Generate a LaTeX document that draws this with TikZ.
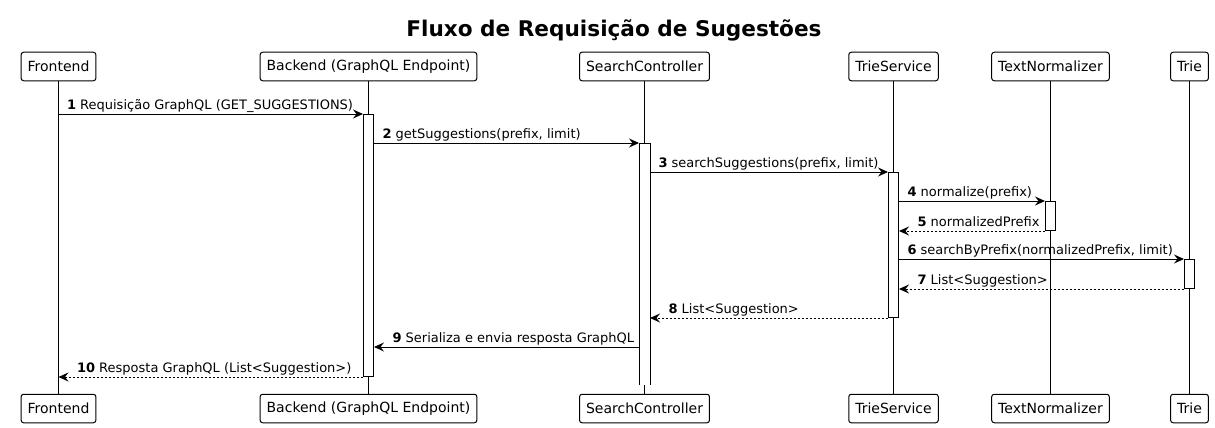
\documentclass[tikz,border=0pt]{standalone}
\usepackage{fontspec}
\setmainfont{DejaVu Sans}
\usetikzlibrary{arrows.meta}
\begin{document}
\begin{tikzpicture}[x=1pt,y=-1pt,
  part/.style={draw=black, line width=1pt, rounded corners=2.5pt, fill=white,
    minimum height=28.5pt, inner xsep=6.5pt, inner ysep=0pt,
    font=\fontsize{14}{16}\selectfont},
  life/.style={line width=1pt, black},
  act/.style={draw=black, line width=1pt, fill=white, minimum width=10pt, inner sep=0pt, anchor=north},
  msg/.style={line width=1pt, -{Stealth[length=10pt,width=9pt,inset=3.5pt]}},
  ret/.style={msg, dash pattern=on 2pt off 2pt},
  lbl/.style={font=\fontsize{13}{15}\selectfont, inner sep=0pt, anchor=base west, yshift=5pt},
]
\useasboundingbox (0,0) rectangle (1215,428);
\fill[white] (0,0) rectangle (1215,428);

\node[font=\fontsize{21.6}{26}\selectfont\bfseries, inner sep=0pt, anchor=base] (title) at (614,36.5) {Fluxo de Requisição de Sugestões};

% participants top
\node[part] (F) at (58.5,66.5) {Frontend};
\node[part] (B) at (368.5,66.5) {Backend (GraphQL Endpoint)};
\node[part] (S) at (644.5,66.5) {SearchController};
\node[part] (T) at (893.5,66.5) {TrieService};
\node[part] (N) at (1050.5,66.5) {TextNormalizer};
\node[part] (R) at (1189.5,66.5) {Trie};
% participants bottom
\node[part] (F2) at (58.5,408.5) {Frontend};
\node[part] (B2) at (368.5,408.5) {Backend (GraphQL Endpoint)};
\node[part] (S2) at (644.5,408.5) {SearchController};
\node[part] (T2) at (893.5,408.5) {TrieService};
\node[part] (N2) at (1050.5,408.5) {TextNormalizer};
\node[part] (R2) at (1189.5,408.5) {Trie};

% lifelines
\draw[life] (F.south) -- (F2.north);
\draw[life] (B.south) -- (B2.north);
\draw[life] (S.south) -- (S2.north);
\draw[life] (T.south) -- (T2.north);
\draw[life] (N.south) -- (N2.north);
\draw[life] (R.south) -- (R2.north);

% activations
\node[act, minimum height=262pt] (aB) at (368.5,114) {};
\node[act, draw=none, minimum height=241pt] (aS) at (644.5,143) {};
\draw[line width=1pt] (aS.south west) -- (aS.north west) -- (aS.north east) -- (aS.south east);
\node[act, minimum height=145pt] (aT) at (893.5,172) {};
\node[act, minimum height=29pt] (aN) at (1050.5,201) {};
\node[act, minimum height=29pt] (aR) at (1189.5,259) {};

\coordinate (y9) at (0,347);

% messages
\draw[msg] (F.south |- aB.north) -- (aB.north west)
  node[lbl, pos=0, xshift=8pt] {\textbf{1} Requisição GraphQL (GET\_SUGGESTIONS)};
\draw[msg] (aB.east |- aS.north) -- (aS.north west)
  node[lbl, pos=0, xshift=8pt] {\textbf{2} getSuggestions(prefix, limit)};
\draw[msg] (aS.east |- aT.north) -- (aT.north west)
  node[lbl, pos=0, xshift=8pt] {\textbf{3} searchSuggestions(prefix, limit)};
\draw[msg] (aT.east |- aN.north) -- (aN.north west)
  node[lbl, pos=0, xshift=8pt] {\textbf{4} normalize(prefix)};
\draw[ret] (aN.south west) -- (aT.east |- aN.south)
  node[lbl, pos=1, xshift=18pt] {\textbf{5} normalizedPrefix};
\draw[msg] (aT.east |- aR.north) -- (aR.north west)
  node[lbl, pos=0, xshift=8pt] {\textbf{6} searchByPrefix(normalizedPrefix, limit)};
\draw[ret] (aR.south west) -- (aT.east |- aR.south)
  node[lbl, pos=1, xshift=18pt] {\textbf{7} List<Suggestion>};
\draw[ret] (aT.south west) -- (aS.east |- aT.south)
  node[lbl, pos=1, xshift=18pt] {\textbf{8} List<Suggestion>};
\draw[msg] (aS.west |- y9) -- (aB.east |- y9)
  node[lbl, pos=1, xshift=18pt] {\textbf{9} Serializa e envia resposta GraphQL};
\draw[ret] (aB.south west) -- (F.south |- aB.south)
  node[lbl, pos=1, xshift=18pt] {\textbf{10} Resposta GraphQL (List<Suggestion>)};
\end{tikzpicture}
\end{document}
